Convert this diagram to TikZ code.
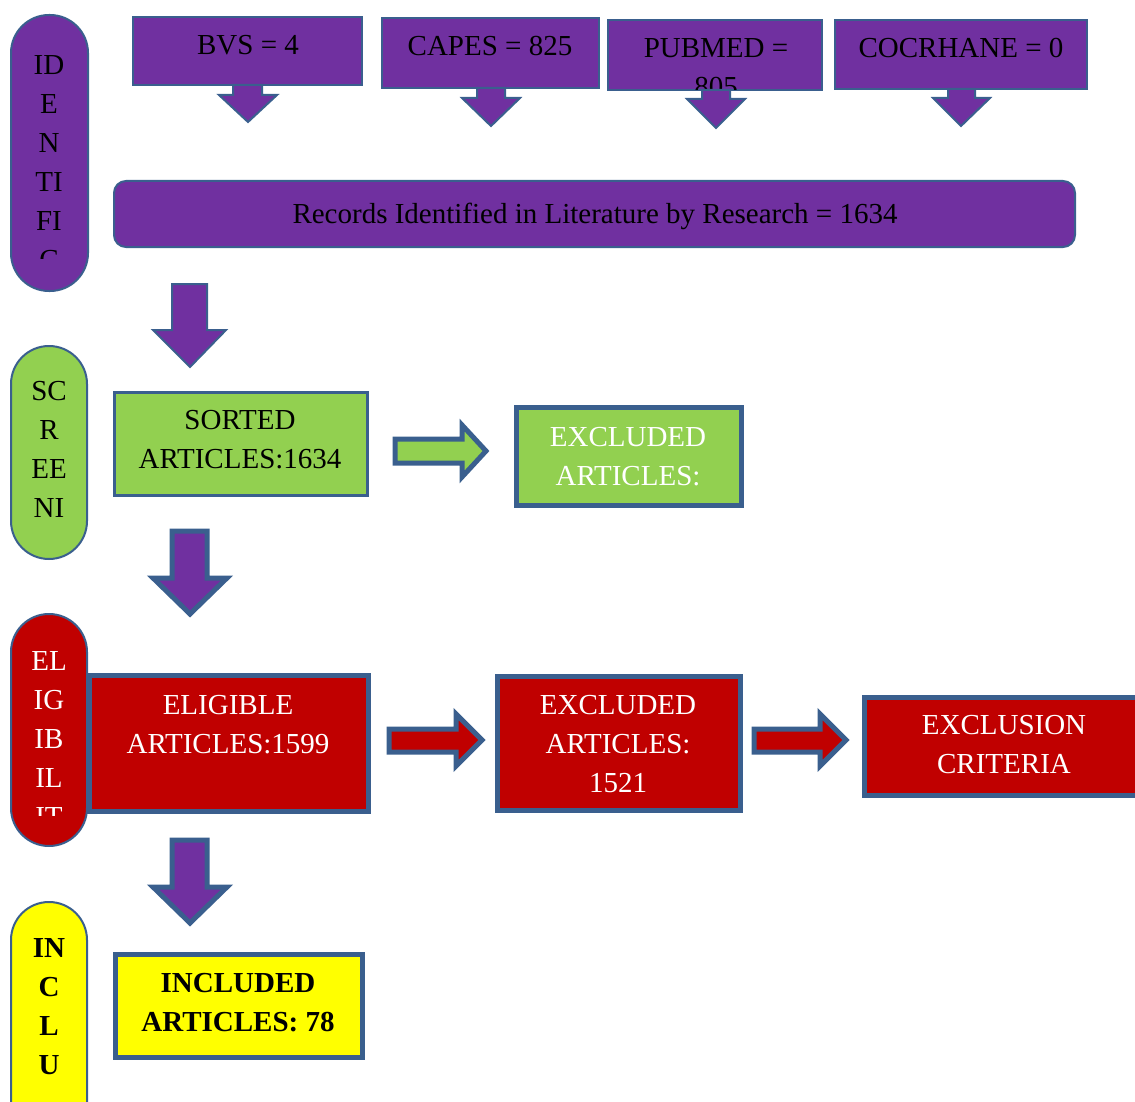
\documentclass[tikz,border=0pt]{standalone}
\usepackage{fontspec}
\setmainfont{Liberation Serif}
\definecolor{bordc}{HTML}{3A5F8E}
\definecolor{purp}{HTML}{7030A0}
\definecolor{grn}{HTML}{92D050}
\definecolor{rd}{HTML}{C00000}
\definecolor{yel}{HTML}{FFFF00}
\tikzset{
  thinb/.style={draw=bordc, line width=2pt, line join=miter},
  midb/.style={draw=bordc, line width=3pt, line join=miter},
  thickb/.style={draw=bordc, line width=5pt, line join=miter},
  boxn/.style={rectangle, inner sep=0pt, outer sep=0pt},
  pill/.style={rectangle, rounded corners=38pt, inner sep=0pt, outer sep=0pt, minimum width=76pt, thinb},
  txt/.style={anchor=north, inner sep=0pt, align=center, font=\fontsize{29}{39}\selectfont},
}
\begin{document}
\begin{tikzpicture}[x=1pt,y=-1pt]
\useasboundingbox (0,0) rectangle (1135,1102);
\clip (0,0) rectangle (1135,1102);

% phase pills
\node[pill, fill=purp, minimum width=77pt, minimum height=276pt] (pid) at (49.5,153) {};
\node[pill, fill=grn, minimum height=213pt] (psc) at (49,452.5) {};
\node[pill, fill=rd, minimum height=232pt] (pel) at (49,730) {};
\node[pill, fill=yel, minimum height=248pt] (pin) at (49,1026) {};

% boxes
\node[boxn, thinb, fill=purp, minimum width=229pt, minimum height=68pt] (bvs) at (247.5,51) {};
\node[boxn, thinb, fill=purp, minimum width=217pt, minimum height=70pt] (capes) at (490.5,53) {};
\node[boxn, thinb, fill=purp, minimum width=214pt, minimum height=70pt] (pubmed) at (715,55) {};
\node[boxn, thinb, fill=purp, minimum width=252pt, minimum height=69pt] (cochrane) at (961,54.5) {};
\node[boxn, thinb, fill=purp, rounded corners=12pt, minimum width=961pt, minimum height=66pt] (records) at (594.5,214) {};
\node[boxn, midb, fill=grn, minimum width=253pt, minimum height=103pt] (sorted) at (240.5,443.5) {};
\node[boxn, thickb, fill=grn, minimum width=225pt, minimum height=98pt] (exclg) at (628.5,456) {};
\node[boxn, thickb, fill=rd, minimum width=279pt, minimum height=136pt] (elig) at (228.5,743) {};
\node[boxn, thickb, fill=rd, minimum width=243pt, minimum height=134pt] (exclr) at (618.5,743) {};
\node[boxn, thickb, fill=rd, minimum width=281pt, minimum height=98pt] (crit) at (1004.5,746) {};
\node[boxn, thickb, fill=yel, minimum width=247pt, minimum height=103pt] (incl) at (238.5,1005.5) {};

% texts
\node[txt] (tbvs) at (248,35.4) {BVS = 4};
\node[txt] (tcapes) at (490,36.4) {CAPES = 825};
\begin{scope}
\clip (608,20) rectangle (822,90);
\node[txt] (tpub) at (716,38.4) {PUBMED =\\805};
\end{scope}
\node[txt] (tcoc) at (961,38.4) {COCRHANE = 0};
\node[txt] (trec) at (595,202.4) {Records Identified in Literature by Research = 1634};
\begin{scope}
\clip (11,15) rectangle (88,258);
\node[txt] (tid) at (49,55.4) {ID\\E\\N\\TI\\FI\\C};
\end{scope}
\node[txt] (tsc) at (49,381.4) {SC\\R\\EE\\NI};
\node[txt] (tsorted) at (240,410.4) {SORTED\\ARTICLES:1634};
\node[txt, text=white] (texclg) at (628,427.4) {EXCLUDED\\ARTICLES:};
\begin{scope}
\clip (11,614) rectangle (87,815);
\node[txt, text=white] (tel) at (49,651.4) {EL\\IG\\IB\\IL\\IT};
\end{scope}
\node[txt, text=white] (telig) at (228,695.4) {ELIGIBLE\\ARTICLES:1599};
\node[txt, text=white] (texclr) at (618,695.4) {EXCLUDED\\ARTICLES:\\1521};
\node[txt, text=white] (tcrit) at (1004,715.4) {EXCLUSION\\CRITERIA};
\node[txt, font=\fontsize{29}{39}\selectfont\bfseries] (tin) at (49,938.4) {IN\\C\\L\\U};
\node[txt, font=\fontsize{29}{39}\selectfont\bfseries] (tincl) at (238,973.4) {INCLUDED\\ARTICLES: 78};

% small down arrows under sources
\draw[thinb, fill=purp] (233,85) -- (262,85) -- (262,95) -- (277,95) -- (248,122) -- (219,95) -- (233,95) -- cycle;
\draw[thinb, fill=purp] (477,88) -- (505,88) -- (505,98) -- (520,98) -- (491,126) -- (462,98) -- (477,98) -- cycle;
\draw[thinb, fill=purp] (702,90) -- (730,90) -- (730,99) -- (745,99) -- (716,128) -- (687,99) -- (702,99) -- cycle;
\draw[thinb, fill=purp] (948,89) -- (975,89) -- (975,98) -- (990,98) -- (961,126) -- (933,98) -- (948,98) -- cycle;

% big down arrows
\draw[thinb, fill=purp] (172,284) -- (207,284) -- (207,330) -- (226,330) -- (190,367) -- (153,330) -- (172,330) -- cycle;
\draw[thickb, fill=purp] (172,531) -- (207,531) -- (207,578) -- (227,578) -- (190,614) -- (153,578) -- (172,578) -- cycle;
\draw[thickb, fill=purp] (172,840) -- (207,840) -- (207,887) -- (227,887) -- (190,923) -- (153,887) -- (172,887) -- cycle;

% right arrows
\draw[thickb, fill=grn] (395,439) -- (462,439) -- (462,425) -- (486,451) -- (462,477) -- (462,463) -- (395,463) -- cycle;
\draw[thickb, fill=rd] (389,729) -- (456,729) -- (456,714) -- (482,740) -- (456,766) -- (456,752) -- (389,752) -- cycle;
\draw[thickb, fill=rd] (754,729) -- (820,729) -- (820,714) -- (846,740) -- (820,766) -- (820,752) -- (754,752) -- cycle;
\end{tikzpicture}
\end{document}
